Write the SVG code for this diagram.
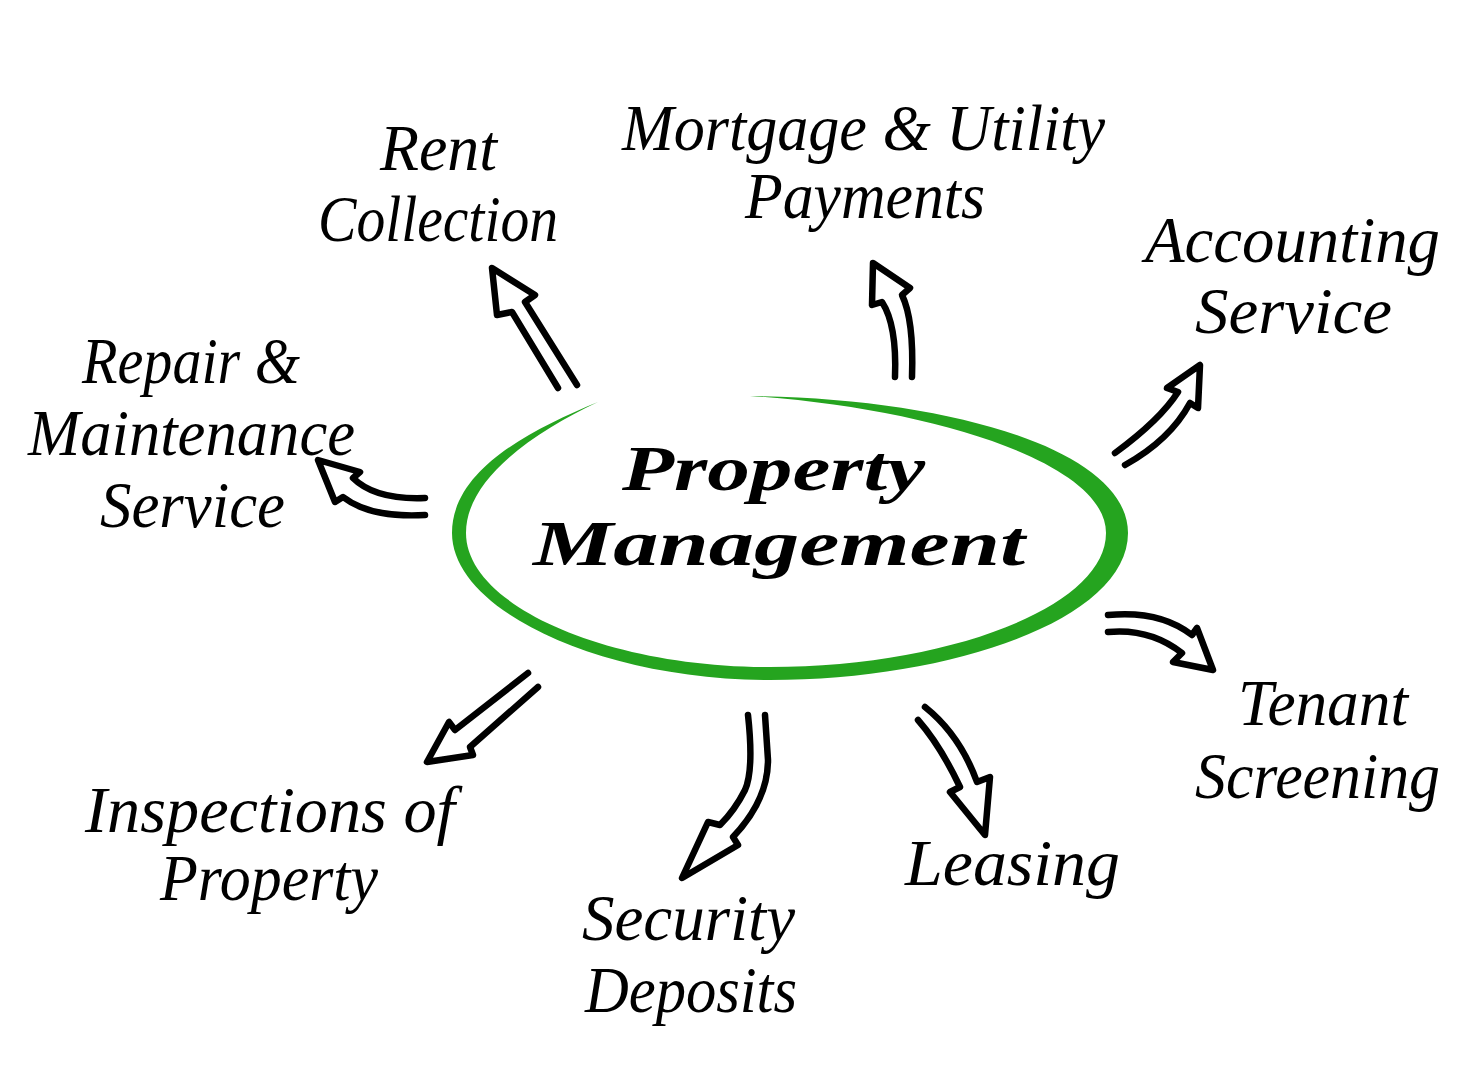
<svg xmlns="http://www.w3.org/2000/svg" width="1484" height="1080" viewBox="0 0 1484 1080">
<style>
.lbl{font-family:"Liberation Serif","DejaVu Serif",serif;font-style:italic;font-size:66px;fill:#000}
.hub{font-family:"Liberation Serif","DejaVu Serif",serif;font-style:italic;font-weight:bold;font-size:64px;fill:#000}
.arr{fill:none;stroke:#000;stroke-width:6.5;stroke-linejoin:round;stroke-linecap:round}
</style>
<rect width="1484" height="1080" fill="#fff"/>
<g id="hub">
<path fill="#25a41f" d="M598,402 C530,430 452,470 452,533 C452,610 600,680 770,680 C950,680 1128,620 1128,533 C1128,450 950,398 750,396 C930,408 1106,462 1106,533 C1106,608 945,667 770,667 C605,667 466,605 466,533 C466,478 535,432 598,402 Z"/>
<text class="hub" x="622" y="490" textLength="303" lengthAdjust="spacingAndGlyphs">Property</text>
<text class="hub" x="533" y="565" textLength="492" lengthAdjust="spacingAndGlyphs">Management</text>
</g>
<g id="connectors">
<path class="arr" d="M558,388 L512,312 L497,315 L492,268 L535,295 L525,302 L577,385"/>
<path class="arr" d="M895,377 Q897,325 882,302 L872,305 L873,263 L910,288 L902,295 Q914,320 912,377"/>
<path class="arr" d="M1115,453 Q1160,420 1178,392 L1167,388 L1200,365 L1198,408 L1190,403 Q1170,440 1125,465"/>
<path class="arr" d="M425,498 Q375,500 353,478 L360,472 L318,460 L335,502 L343,497 Q370,518 425,515"/>
<path class="arr" d="M1108,615 Q1160,610 1192,635 L1197,628 L1213,670 L1173,662 L1182,653 Q1150,628 1108,632"/>
<path class="arr" d="M528,673 L455,730 L449,722 L427,762 L473,755 L470,747 L538,687"/>
<path class="arr" d="M748,715 Q754,770 745,790 Q735,810 720,825 L708,822 L682,878 L738,845 L733,837 Q768,800 768,760 L765,715"/>
<path class="arr" d="M925,707 Q960,735 977,782 L990,777 L985,835 L950,792 L960,787 Q940,745 918,720"/>
</g>
<g id="rent-collection">
<text class="lbl" x="380" y="170" textLength="117" lengthAdjust="spacingAndGlyphs">Rent</text>
<text class="lbl" x="318" y="241" textLength="240" lengthAdjust="spacingAndGlyphs">Collection</text>
</g>
<g id="mortgage-utility">
<text class="lbl" x="622" y="150" textLength="483" lengthAdjust="spacingAndGlyphs">Mortgage &amp; Utility</text>
<text class="lbl" x="745" y="218" textLength="240" lengthAdjust="spacingAndGlyphs">Payments</text>
</g>
<g id="accounting">
<text class="lbl" x="1145" y="262" textLength="295" lengthAdjust="spacingAndGlyphs">Accounting</text>
<text class="lbl" x="1195" y="333" textLength="197" lengthAdjust="spacingAndGlyphs">Service</text>
</g>
<g id="repair">
<text class="lbl" x="82" y="383" textLength="218" lengthAdjust="spacingAndGlyphs">Repair &amp;</text>
<text class="lbl" x="28" y="455" textLength="327" lengthAdjust="spacingAndGlyphs">Maintenance</text>
<text class="lbl" x="100" y="527" textLength="185" lengthAdjust="spacingAndGlyphs">Service</text>
</g>
<g id="tenant-screening">
<text class="lbl" x="1238" y="725" textLength="170" lengthAdjust="spacingAndGlyphs">Tenant</text>
<text class="lbl" x="1195" y="798" textLength="245" lengthAdjust="spacingAndGlyphs">Screening</text>
</g>
<g id="inspections">
<text class="lbl" x="85" y="832" textLength="370" lengthAdjust="spacingAndGlyphs">Inspections of</text>
<text class="lbl" x="160" y="900" textLength="218" lengthAdjust="spacingAndGlyphs">Property</text>
</g>
<g id="security-deposits">
<text class="lbl" x="582" y="940" textLength="213" lengthAdjust="spacingAndGlyphs">Security</text>
<text class="lbl" x="585" y="1012" textLength="212" lengthAdjust="spacingAndGlyphs">Deposits</text>
</g>
<g id="leasing">
<text class="lbl" x="905" y="885" textLength="215" lengthAdjust="spacingAndGlyphs">Leasing</text>
</g>
</svg>
